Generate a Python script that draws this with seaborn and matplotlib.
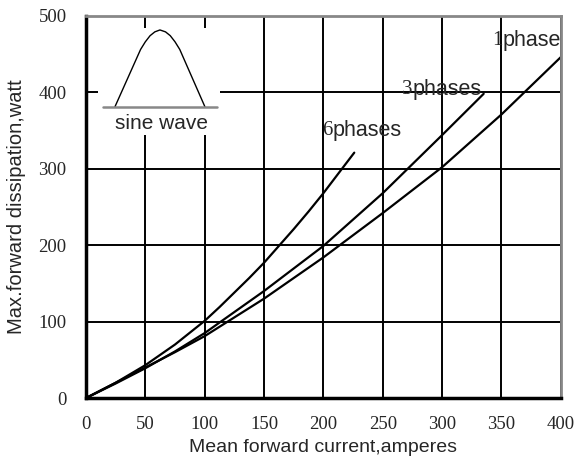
import matplotlib
matplotlib.use("Agg")
import matplotlib.pyplot as plt
import seaborn as sns
import pandas as pd
from matplotlib.patches import Rectangle

# curve values (current in A, dissipation in W)
x_1ph = [0, 25, 50, 75, 100, 150, 200, 250, 300, 350, 400]
y_1ph = [0, 20, 40, 60, 81, 130, 184, 242, 302, 371, 446]
x_3ph = [0, 25, 50, 75, 100, 150, 200, 250, 300, 335]
y_3ph = [0, 19, 39, 61, 85, 140, 199, 268, 344, 398]
x_6ph = [0, 25, 50, 75, 100, 112.5, 125, 137.5, 150, 162.5, 175, 187.5, 200, 214.7, 226]
y_6ph = [0, 20, 43, 70, 101, 119, 138, 157, 177, 199, 221, 244, 268, 298, 321]

x_ticks = [0, 50, 100, 150, 200, 250, 300, 350, 400]
y_ticks = [0, 100, 200, 300, 400, 500]

# small sine wave sketch in the corner
wave_x = [24.4, 46, 50, 54, 58, 62.3, 67, 71, 75, 79, 100.2]
wave_y = [381, 456, 466, 474, 479, 481.5, 479, 474, 466, 456, 381]

df = pd.concat([
    pd.DataFrame({"I": x_1ph, "P": y_1ph, "curve": "1"}),
    pd.DataFrame({"I": x_3ph, "P": y_3ph, "curve": "3"}),
    pd.DataFrame({"I": x_6ph, "P": y_6ph, "curve": "6"}),
])

sns.set_style("white")
serif = ["Liberation Serif", "DejaVu Serif"]
sans = ["Liberation Sans", "DejaVu Sans"]

fig = plt.figure(figsize=(5.77, 4.65), dpi=100)
ax = fig.add_axes([0.149, 0.144, 0.823, 0.822])

for name, g in df.groupby("curve"):
    sns.lineplot(data=g, x="I", y="P", ax=ax, color="black", lw=1.6,
                 sort=False, estimator=None)

ax.set_xlim(0, 400)
ax.set_ylim(0, 500)
ax.set_xticks(x_ticks)
ax.set_yticks(y_ticks)
ax.grid(True, color="black", lw=1.4)
ax.set_axisbelow(True)
ax.tick_params(axis="x", length=0, pad=13)
ax.tick_params(axis="y", length=0, pad=14)
for lab in ax.get_xticklabels() + ax.get_yticklabels():
    lab.set_family(serif)
    lab.set_fontsize(13.5)

ax.spines["left"].set_linewidth(2.5)
ax.spines["bottom"].set_linewidth(2.5)
ax.spines["left"].set_color("black")
ax.spines["bottom"].set_color("black")
ax.spines["top"].set_color("#888888")
ax.spines["right"].set_color("#888888")
ax.spines["top"].set_linewidth(2)
ax.spines["right"].set_linewidth(2)

ax.set_xlabel("Mean forward current,amperes", family=sans, fontsize=14, labelpad=4)
ax.set_ylabel("Max.forward dissipation,watt", family=sans, fontsize=14.5, labelpad=9)

# inset box with the sine wave
ax.add_patch(Rectangle((10, 344), 103, 140, facecolor="white", edgecolor="none", zorder=2))
ax.plot(wave_x, wave_y, color="black", lw=1, zorder=3)
ax.plot([14.3, 110.3], [381, 381], color="#888888", lw=1.8, zorder=3)
ax.text(64, 359, "sine wave", ha="center", va="center", family=sans, fontsize=15, zorder=3)

# curve labels: digit in serif, word in sans
labels = [(351, 468, "1", "phase"),
          (275.4, 404, "3", "phases"),
          (208, 350, "6", "phases")]
for xs, yy, digit, word in labels:
    ax.text(xs, yy, digit, ha="right", va="center", family=serif, fontsize=15, zorder=4)
    ax.text(xs, yy, word, ha="left", va="center", family=sans, fontsize=15.5, zorder=4)

fig.savefig("out.png", dpi=100)
